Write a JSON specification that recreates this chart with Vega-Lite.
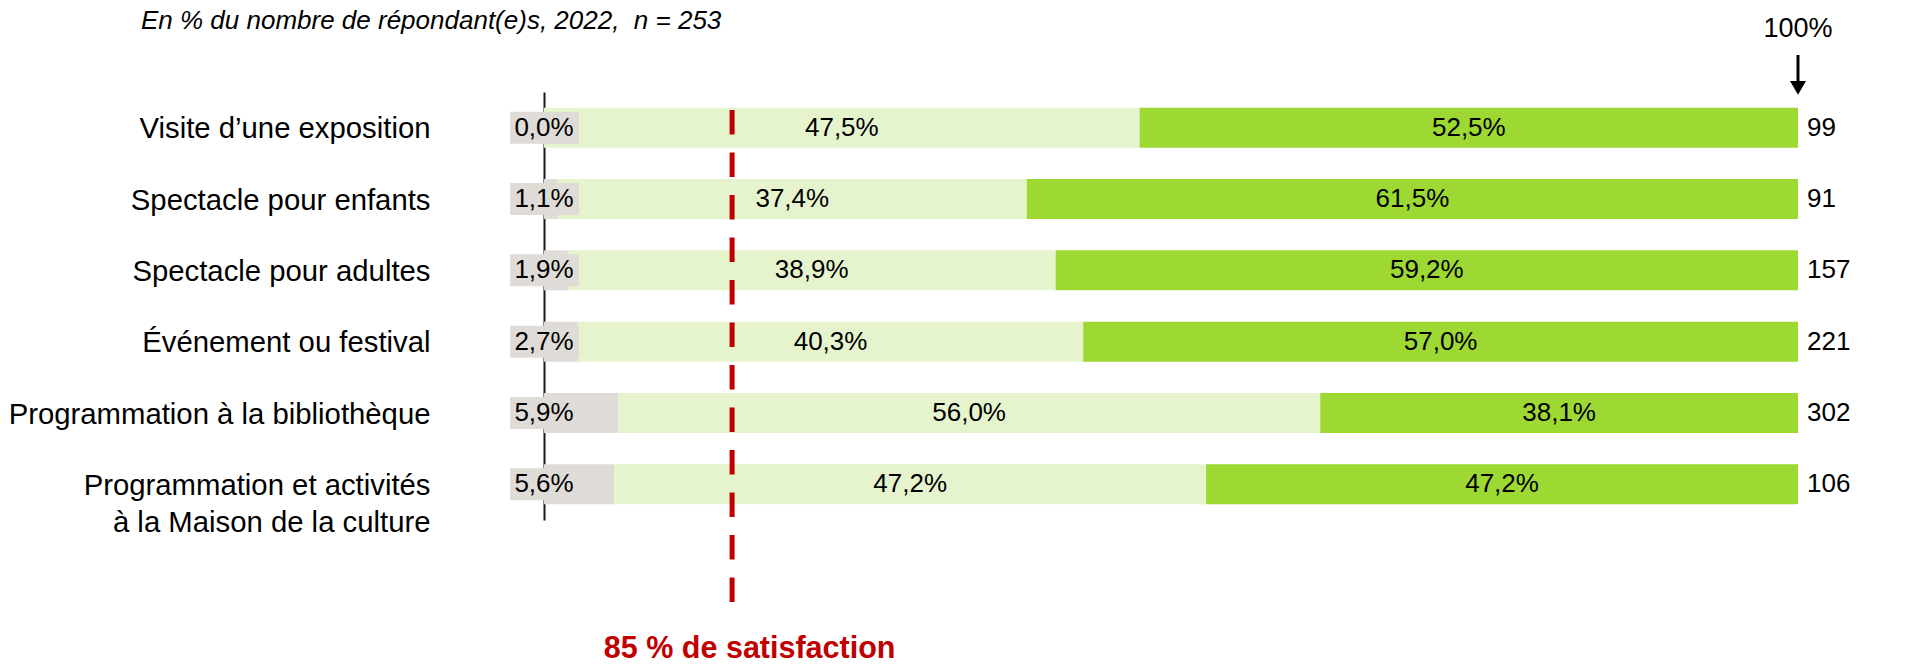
{
  "$schema": "https://vega.github.io/schema/vega-lite/v6.json",
  "width": 1254,
  "height": 428,
  "autosize": {"type": "none"},
  "padding": {"left": 544, "top": 92, "right": 114, "bottom": 145},
  "background": "#ffffff",
  "config": {"view": {"stroke": null}, "font": "Liberation Sans"},
  "datasets": {
    "segments": [
      {"activite": "Visite d’une exposition", "niveau": "Peu ou pas satisfait", "ordre": 1, "pct": 0.0},
      {"activite": "Visite d’une exposition", "niveau": "Assez satisfait", "ordre": 2, "pct": 47.5},
      {"activite": "Visite d’une exposition", "niveau": "Très satisfait", "ordre": 3, "pct": 52.5},
      {"activite": "Spectacle pour enfants", "niveau": "Peu ou pas satisfait", "ordre": 1, "pct": 1.1},
      {"activite": "Spectacle pour enfants", "niveau": "Assez satisfait", "ordre": 2, "pct": 37.4},
      {"activite": "Spectacle pour enfants", "niveau": "Très satisfait", "ordre": 3, "pct": 61.5},
      {"activite": "Spectacle pour adultes", "niveau": "Peu ou pas satisfait", "ordre": 1, "pct": 1.9},
      {"activite": "Spectacle pour adultes", "niveau": "Assez satisfait", "ordre": 2, "pct": 38.9},
      {"activite": "Spectacle pour adultes", "niveau": "Très satisfait", "ordre": 3, "pct": 59.2},
      {"activite": "Événement ou festival", "niveau": "Peu ou pas satisfait", "ordre": 1, "pct": 2.7},
      {"activite": "Événement ou festival", "niveau": "Assez satisfait", "ordre": 2, "pct": 40.3},
      {"activite": "Événement ou festival", "niveau": "Très satisfait", "ordre": 3, "pct": 57.0},
      {"activite": "Programmation à la bibliothèque", "niveau": "Peu ou pas satisfait", "ordre": 1, "pct": 5.9},
      {"activite": "Programmation à la bibliothèque", "niveau": "Assez satisfait", "ordre": 2, "pct": 56.0},
      {"activite": "Programmation à la bibliothèque", "niveau": "Très satisfait", "ordre": 3, "pct": 38.1},
      {"activite": "Programmation et activités|à la Maison de la culture", "niveau": "Peu ou pas satisfait", "ordre": 1, "pct": 5.6},
      {"activite": "Programmation et activités|à la Maison de la culture", "niveau": "Assez satisfait", "ordre": 2, "pct": 47.2},
      {"activite": "Programmation et activités|à la Maison de la culture", "niveau": "Très satisfait", "ordre": 3, "pct": 47.2}
    ],
    "effectifs": [
      {"activite": "Visite d’une exposition", "n": 99},
      {"activite": "Spectacle pour enfants", "n": 91},
      {"activite": "Spectacle pour adultes", "n": 157},
      {"activite": "Événement ou festival", "n": 221},
      {"activite": "Programmation à la bibliothèque", "n": 302},
      {"activite": "Programmation et activités|à la Maison de la culture", "n": 106}
    ]
  },
  "layer": [
    {
      "layer": [
        {
          "data": {"name": "segments"},
          "mark": {"type": "bar"},
          "encoding": {
            "y": {
              "field": "activite",
              "type": "nominal",
              "sort": null,
              "scale": {"paddingInner": 0.44, "paddingOuter": 0.22},
              "axis": {
                "title": null,
                "domain": true,
                "domainColor": "#1a1a1a",
                "domainWidth": 2,
                "ticks": false,
                "grid": false,
                "labelFontSize": 29.3,
                "labelFont": "Liberation Sans",
                "labelColor": "#000000",
                "labelPadding": 114,
                "labelLimit": 1000,
                "labelAlign": "right",
                "labelBaseline": "top",
                "labelOffset": -12.5,
                "labelLineHeight": 37,
                "labelExpr": "split(datum.label, '|')"
              }
            },
            "x": {
              "field": "pct",
              "type": "quantitative",
              "stack": "zero",
              "scale": {"domain": [0, 100], "nice": false, "zero": false},
              "axis": null
            },
            "color": {
              "field": "niveau",
              "type": "nominal",
              "scale": {
                "domain": ["Peu ou pas satisfait", "Assez satisfait", "Très satisfait"],
                "range": ["#DFDBD7", "#E6F4CE", "#9DD833"]
              },
              "legend": null
            },
            "order": {"field": "ordre", "type": "quantitative"}
          }
        },
        {
          "data": {"name": "segments"},
          "transform": [{"filter": "datum.ordre == 1"}],
          "mark": {"type": "bar", "height": 32, "color": "#DFDBD7"},
          "encoding": {
            "y": {"field": "activite", "type": "nominal", "sort": null},
            "x": {"datum": -2.7, "type": "quantitative"},
            "x2": {"datum": 2.8}
          }
        },
        {
          "data": {"name": "segments"},
          "transform": [
            {"filter": "datum.ordre == 1"},
            {"calculate": "replace(format(datum.pct, '.1f'), '.', ',') + '%'", "as": "label"}
          ],
          "mark": {"type": "text", "fontSize": 26, "color": "#000000", "align": "center", "baseline": "middle", "font": "Liberation Sans"},
          "encoding": {
            "y": {"field": "activite", "type": "nominal", "sort": null},
            "x": {"datum": 0, "type": "quantitative"},
            "text": {"field": "label", "type": "nominal"}
          }
        },
        {
          "data": {"name": "segments"},
          "transform": [
            {"stack": "pct", "groupby": ["activite"], "sort": [{"field": "ordre"}], "as": ["x0", "x1"]},
            {"filter": "datum.ordre > 1"},
            {"calculate": "(datum.x0 + datum.x1) / 2", "as": "mid"},
            {"calculate": "replace(format(datum.pct, '.1f'), '.', ',') + '%'", "as": "label"}
          ],
          "mark": {"type": "text", "fontSize": 26, "color": "#000000", "align": "center", "baseline": "middle", "font": "Liberation Sans"},
          "encoding": {
            "y": {"field": "activite", "type": "nominal", "sort": null},
            "x": {"field": "mid", "type": "quantitative"},
            "text": {"field": "label", "type": "nominal"}
          }
        },
        {
          "data": {"name": "effectifs"},
          "mark": {"type": "text", "fontSize": 26, "color": "#000000", "align": "left", "baseline": "middle", "dx": 9, "font": "Liberation Sans"},
          "encoding": {
            "y": {"field": "activite", "type": "nominal", "sort": null},
            "x": {"datum": 100, "type": "quantitative"},
            "text": {"field": "n", "type": "quantitative"}
          }
        }
      ]
    },
    {
      "layer": [
        {
          "data": {"values": [{}]},
          "mark": {"type": "rule", "color": "#C00000", "strokeWidth": 5, "strokeDash": [24.5, 18]},
          "encoding": {
            "x": {"datum": 15, "type": "quantitative"},
            "y": {"datum": 0.958, "type": "quantitative", "scale": {"domain": [0, 1], "nice": false, "zero": false}, "axis": null},
            "y2": {"datum": -0.194}
          }
        },
        {
          "data": {"values": [{}]},
          "mark": {"type": "text", "fontSize": 30.5, "fontWeight": "bold", "color": "#C00000", "align": "center", "baseline": "alphabetic", "font": "Liberation Sans"},
          "encoding": {
            "x": {"datum": 16.4, "type": "quantitative"},
            "y": {"datum": -0.3224, "type": "quantitative"},
            "text": {"value": "85 % de satisfaction"}
          }
        },
        {
          "data": {"values": [{}]},
          "mark": {"type": "text", "fontSize": 26, "fontStyle": "italic", "color": "#000000", "align": "left", "baseline": "alphabetic", "font": "Liberation Sans"},
          "encoding": {
            "x": {"datum": -32.14, "type": "quantitative"},
            "y": {"datum": 1.1472, "type": "quantitative"},
            "text": {"value": "En % du nombre de répondant(e)s, 2022,\u00a0 n = 253"}
          }
        },
        {
          "data": {"values": [{}]},
          "mark": {"type": "text", "fontSize": 27, "color": "#000000", "align": "center", "baseline": "alphabetic", "font": "Liberation Sans"},
          "encoding": {
            "x": {"datum": 100, "type": "quantitative"},
            "y": {"datum": 1.1285, "type": "quantitative"},
            "text": {"value": "100%"}
          }
        },
        {
          "data": {"values": [{}]},
          "mark": {"type": "rule", "color": "#000000", "strokeWidth": 3},
          "encoding": {
            "x": {"datum": 100, "type": "quantitative"},
            "y": {"datum": 1.0864, "type": "quantitative"},
            "y2": {"datum": 1.0164}
          }
        },
        {
          "data": {"values": [{}]},
          "mark": {"type": "point", "shape": "triangle-down", "filled": true, "color": "#000000", "size": 256, "opacity": 1},
          "encoding": {
            "x": {"datum": 100, "type": "quantitative"},
            "y": {"datum": 1.0098, "type": "quantitative"}
          }
        }
      ]
    }
  ],
  "resolve": {"scale": {"y": "independent"}, "axis": {"y": "independent"}}
}
